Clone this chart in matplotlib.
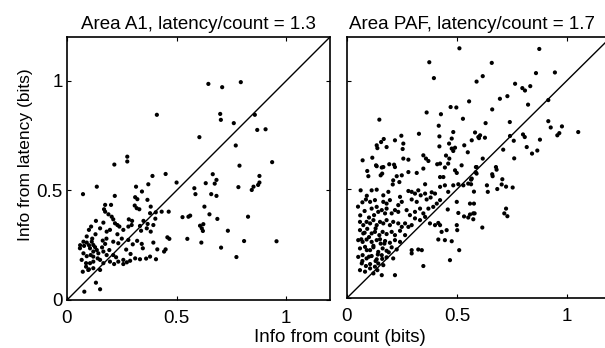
import matplotlib
matplotlib.use("Agg")
import matplotlib.pyplot as plt

plt.rcParams['font.family'] = ['Liberation Sans', 'DejaVu Sans']

titles = ["Area A1, latency/count = 1.3", "Area PAF, latency/count = 1.7"]
xlabel = "Info from count (bits)"
ylabel = "Info from latency (bits)"
ticks = [0, 0.5, 1]
tick_labels = ["0", "0.5", "1"]

a1_count = [
    0.216, 0.275, 0.275, 0.41, 0.604, 0.645, 0.708, 0.793, 0.699, 0.702, 0.761, 0.857, 0.868, 0.906,
    0.770, 0.787, 0.936, 0.665, 0.633, 0.682, 0.674, 0.581, 0.586, 0.658, 0.682, 0.782, 0.878, 0.878,
    0.872, 0.851, 0.843, 0.627, 0.562, 0.650, 0.686, 0.826, 0.607, 0.622, 0.615, 0.620, 0.734, 0.613,
    0.808, 0.956, 0.703, 0.773, 0.073, 0.136, 0.390, 0.450, 0.500, 0.315, 0.371, 0.342, 0.218, 0.311,
    0.321, 0.367, 0.174, 0.201, 0.169, 0.174, 0.309, 0.330, 0.318, 0.382, 0.405, 0.379, 0.432, 0.464,
    0.189, 0.204, 0.211, 0.219, 0.230, 0.132, 0.166, 0.282, 0.297, 0.349, 0.368, 0.403, 0.527, 0.554,
    0.110, 0.100, 0.151, 0.181, 0.196, 0.239, 0.257, 0.280, 0.295, 0.333, 0.338, 0.364, 0.394, 0.382,
    0.458, 0.467, 0.549, 0.075, 0.090, 0.078, 0.113, 0.120, 0.128, 0.163, 0.174, 0.211, 0.234, 0.280,
    0.300, 0.341, 0.346, 0.394, 0.412, 0.443, 0.450, 0.059, 0.075, 0.105, 0.120, 0.108, 0.120, 0.136,
    0.143, 0.166, 0.181, 0.193, 0.211, 0.224, 0.257, 0.273, 0.288, 0.311, 0.333, 0.361, 0.379, 0.406,
    0.067, 0.087, 0.105, 0.120, 0.097, 0.151, 0.166, 0.196, 0.215, 0.234, 0.257, 0.087, 0.072, 0.151,
    0.132, 0.151, 0.079,
    0.090, 0.100, 0.115, 0.130, 0.120, 0.140, 0.090, 0.100, 0.160, 0.180, 0.230, 0.250, 0.270, 0.290,
    0.320, 0.060,
]
a1_latency = [
    0.618, 0.654, 0.632, 0.845, 0.743, 0.986, 0.971, 0.994, 0.849, 0.822, 0.807, 0.845, 0.776, 0.779,
    0.705, 0.613, 0.629, 0.574, 0.533, 0.548, 0.531, 0.510, 0.483, 0.483, 0.475, 0.515, 0.566, 0.536,
    0.525, 0.517, 0.502, 0.426, 0.385, 0.391, 0.370, 0.380, 0.339, 0.346, 0.327, 0.315, 0.316, 0.262,
    0.269, 0.268, 0.239, 0.196, 0.483, 0.517, 0.566, 0.575, 0.536, 0.517, 0.528, 0.495, 0.475, 0.469,
    0.460, 0.457, 0.434, 0.434, 0.414, 0.403, 0.431, 0.414, 0.419, 0.426, 0.400, 0.396, 0.403, 0.403,
    0.391, 0.380, 0.368, 0.350, 0.342, 0.361, 0.353, 0.368, 0.361, 0.361, 0.347, 0.371, 0.378, 0.380,
    0.335, 0.320, 0.327, 0.312, 0.320, 0.335, 0.320, 0.335, 0.342, 0.338, 0.316, 0.327, 0.342, 0.312,
    0.286, 0.279, 0.279, 0.266, 0.262, 0.247, 0.266, 0.251, 0.241, 0.271, 0.256, 0.266, 0.259, 0.274,
    0.254, 0.256, 0.236, 0.262, 0.231, 0.221, 0.231, 0.236, 0.213, 0.236, 0.221, 0.205, 0.198, 0.228,
    0.213, 0.221, 0.205, 0.228, 0.205, 0.195, 0.183, 0.172, 0.179, 0.190, 0.186, 0.189, 0.198, 0.186,
    0.183, 0.168, 0.168, 0.145, 0.137, 0.183, 0.168, 0.175, 0.164, 0.175, 0.164, 0.152, 0.129, 0.137,
    0.079, 0.049, 0.038,
    0.290, 0.250, 0.280, 0.300, 0.175, 0.190, 0.200, 0.140, 0.240, 0.280, 0.300, 0.280, 0.230, 0.210,
    0.270, 0.250,
]

paf_count = [
    0.511, 0.374, 0.395, 0.589, 0.147, 0.362, 0.427, 0.471, 0.497, 0.555, 0.527, 0.417, 0.483, 0.327,
    0.582, 0.247, 0.167, 0.155, 0.135, 0.138, 0.180, 0.218, 0.256, 0.253, 0.420, 0.420, 0.476, 0.464,
    0.476, 0.483, 0.491, 0.533, 0.549, 0.567, 0.597, 0.071, 0.115, 0.214, 0.256, 0.279, 0.347, 0.359,
    0.370, 0.450, 0.465, 0.423, 0.135, 0.165, 0.445, 0.521, 0.586,
    0.874, 0.658, 0.617, 0.859, 0.945, 0.764, 0.797, 0.809, 0.833, 0.695, 0.729, 0.660, 0.823, 0.915,
    0.630, 0.740, 0.915, 0.926, 0.977, 1.051, 0.956, 0.965, 0.605, 0.600, 0.627, 0.741, 0.758, 0.800,
    0.808, 0.877, 0.817, 0.710, 0.841, 0.865, 0.617, 0.760, 0.677,
    0.589, 0.585, 0.680, 0.660, 0.662, 0.564, 0.564, 0.706, 0.703, 0.723, 0.753, 0.636, 0.640, 0.683,
    0.577, 0.577, 0.559, 0.580, 0.574, 0.723, 0.715, 0.729, 0.615,
    0.092, 0.097, 0.132, 0.158, 0.160, 0.153, 0.192, 0.218, 0.226, 0.210, 0.208, 0.249, 0.238, 0.279,
    0.317, 0.347, 0.410, 0.423, 0.438, 0.460, 0.491, 0.499, 0.355, 0.423, 0.445, 0.483, 0.506, 0.529,
    0.551, 0.567, 0.589, 0.062, 0.112, 0.135, 0.165, 0.188, 0.279, 0.294, 0.309, 0.324, 0.335, 0.355,
    0.385, 0.400, 0.086, 0.105, 0.127, 0.165, 0.180, 0.195, 0.241, 0.249, 0.233, 0.294, 0.317, 0.362,
    0.380, 0.408, 0.423, 0.460, 0.458, 0.499, 0.559, 0.506, 0.532, 0.551, 0.574, 0.112, 0.135, 0.142,
    0.123, 0.158, 0.173, 0.180, 0.203, 0.218, 0.233, 0.271, 0.286, 0.309, 0.332, 0.347, 0.370, 0.392,
    0.309, 0.332, 0.355, 0.415, 0.059, 0.074, 0.089, 0.105, 0.120, 0.135, 0.150, 0.165, 0.180, 0.195,
    0.210, 0.233, 0.249, 0.264, 0.279, 0.294, 0.377, 0.400, 0.423, 0.430, 0.453, 0.499, 0.501, 0.415,
    0.445, 0.476, 0.510, 0.294, 0.324, 0.340, 0.294, 0.468, 0.347, 0.059, 0.074, 0.092, 0.112, 0.127,
    0.147, 0.162, 0.180, 0.203, 0.218, 0.241, 0.264, 0.051, 0.071, 0.089, 0.112, 0.135, 0.153, 0.173,
    0.195, 0.218, 0.241, 0.059, 0.082, 0.105, 0.120, 0.142, 0.162, 0.180, 0.203, 0.226, 0.051, 0.071,
    0.089, 0.112, 0.135, 0.158, 0.180, 0.210, 0.067, 0.086, 0.105, 0.127, 0.142, 0.165, 0.059, 0.082,
    0.105, 0.120, 0.138, 0.158, 0.218,
    0.065, 0.080, 0.100, 0.130, 0.150, 0.170, 0.090, 0.120, 0.140, 0.160, 0.070, 0.100, 0.190, 0.130,
    0.060, 0.080, 0.100, 0.070, 0.090, 0.050,
]
paf_latency = [
    1.148, 1.084, 1.011, 0.995, 0.820, 0.853, 0.845, 0.878, 0.876, 0.904, 0.824, 0.792, 0.763, 0.755,
    0.761, 0.746, 0.731, 0.717, 0.702, 0.689, 0.694, 0.725, 0.710, 0.685, 0.743, 0.697, 0.733, 0.710,
    0.687, 0.676, 0.691, 0.702, 0.670, 0.725, 0.740, 0.633, 0.645, 0.613, 0.641, 0.636, 0.656, 0.641,
    0.630, 0.655, 0.641, 0.618, 0.606, 0.602, 0.600, 0.610, 0.602,
    1.145, 1.081, 1.020, 1.034, 1.037, 0.985, 0.965, 0.954, 0.974, 0.916, 0.928, 0.867, 0.889, 0.910,
    0.804, 0.809, 0.813, 0.784, 0.789, 0.763, 0.748, 0.758, 0.748, 0.735, 0.737, 0.745, 0.723, 0.752,
    0.740, 0.728, 0.694, 0.682, 0.664, 0.678, 0.641, 0.642, 0.602,
    0.602, 0.578, 0.590, 0.569, 0.560, 0.544, 0.523, 0.546, 0.522, 0.512, 0.508, 0.518, 0.488, 0.501,
    0.489, 0.434, 0.384, 0.389, 0.362, 0.411, 0.389, 0.376, 0.324,
    0.584, 0.560, 0.610, 0.600, 0.572, 0.564, 0.615, 0.602, 0.560, 0.541, 0.522, 0.564, 0.533, 0.579,
    0.575, 0.595, 0.615, 0.556, 0.556, 0.618, 0.587, 0.575, 0.523, 0.511, 0.518, 0.518, 0.523, 0.518,
    0.526, 0.549, 0.572, 0.495, 0.495, 0.498, 0.472, 0.488, 0.492, 0.488, 0.480, 0.495, 0.472, 0.480,
    0.486, 0.480, 0.453, 0.442, 0.450, 0.442, 0.434, 0.450, 0.465, 0.442, 0.427, 0.453, 0.442, 0.453,
    0.462, 0.434, 0.450, 0.488, 0.407, 0.442, 0.434, 0.391, 0.375, 0.370, 0.389, 0.411, 0.419, 0.396,
    0.381, 0.404, 0.389, 0.411, 0.389, 0.404, 0.396, 0.404, 0.381, 0.396, 0.411, 0.389, 0.411, 0.419,
    0.366, 0.358, 0.373, 0.345, 0.350, 0.335, 0.350, 0.343, 0.358, 0.335, 0.350, 0.343, 0.358, 0.335,
    0.350, 0.343, 0.327, 0.343, 0.327, 0.335, 0.343, 0.335, 0.335, 0.304, 0.312, 0.335, 0.312, 0.269,
    0.266, 0.261, 0.220, 0.220, 0.223, 0.220, 0.205, 0.174, 0.147, 0.312, 0.297, 0.318, 0.297, 0.304,
    0.289, 0.304, 0.294, 0.304, 0.289, 0.309, 0.289, 0.266, 0.258, 0.269, 0.258, 0.266, 0.250, 0.262,
    0.254, 0.266, 0.258, 0.228, 0.235, 0.220, 0.233, 0.212, 0.228, 0.217, 0.233, 0.223, 0.189, 0.197,
    0.182, 0.193, 0.178, 0.197, 0.187, 0.182, 0.159, 0.147, 0.156, 0.144, 0.159, 0.151, 0.128, 0.121,
    0.136, 0.113, 0.128, 0.105, 0.105,
    0.270, 0.300, 0.280, 0.320, 0.270, 0.250, 0.220, 0.240, 0.200, 0.180, 0.170, 0.190, 0.210, 0.170,
    0.380, 0.400, 0.370, 0.440, 0.470, 0.420,
]

W, H = 605, 348
FS = 13.5
fig = plt.figure(figsize=(W / 100, H / 100), dpi=100)

def px_axes(x0, y0, x1, y1):
    return fig.add_axes([x0 / W, 1 - y1 / H, (x1 - x0) / W, (y1 - y0) / H])

ax1 = px_axes(67, 37, 330, 300)
ax2 = px_axes(347, 37, 611, 298)

panels = [(ax1, a1_count, a1_latency, 0.5), (ax2, paf_count, paf_latency, 0.473)]
for i, (ax, xs, ys, tx) in enumerate(panels):
    ax.set_xlim(0, 1.2)
    ax.set_ylim(0, 1.2)
    ax.plot([0, 1.2], [0, 1.2], color='black', lw=1.0, zorder=1)
    ax.scatter(xs, ys, s=9, color='black', edgecolors='none', zorder=2)
    ax.set_xticks(ticks)
    ax.set_xticklabels(tick_labels, fontsize=FS)
    ax.set_yticks(ticks)
    if i == 0:
        ax.set_yticklabels(tick_labels, fontsize=FS)
    else:
        ax.set_yticklabels([])
    ax.tick_params(direction='in', length=3, width=0.8, top=True, right=True)
    ax.tick_params(axis='x', pad=7)
    ax.tick_params(axis='y', pad=3)
    for sp in ax.spines.values():
        sp.set_linewidth(1.2)
    ax.set_title(titles[i], fontsize=FS, pad=6, x=tx)

fig.text(340 / W, 1 - 337 / H, xlabel, ha='center', va='center', fontsize=FS)
fig.text(26 / W, 1 - 155 / H, ylabel, ha='center', va='center', rotation=90, fontsize=12.5)

fig.savefig("out.png", dpi=100)
